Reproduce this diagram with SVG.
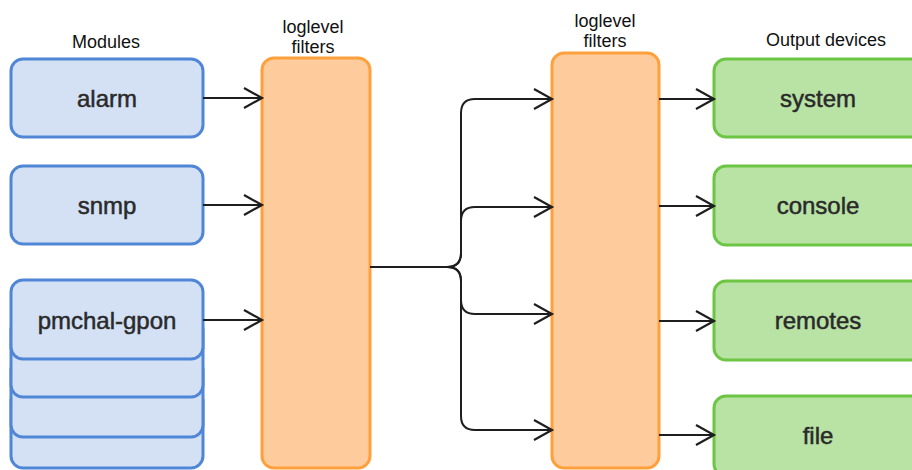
<svg xmlns="http://www.w3.org/2000/svg" width="912" height="470" viewBox="0 0 912 470">
  <defs>
    <style>
      .module rect { fill: #d4e1f5; stroke: #4f86d6; stroke-width: 3; }
      .filter rect { fill: #fecc9c; stroke: #ffa03c; stroke-width: 3; }
      .output rect { fill: #b9e2a5; stroke: #6cc644; stroke-width: 3; }
      .label { font-family: "Liberation Sans", Arial, sans-serif; font-size: 24px; fill: #2a2a2a; text-anchor: middle; stroke: #2a2a2a; stroke-width: 0.5; }
      .caption { font-family: "Liberation Sans", Arial, sans-serif; font-size: 18px; fill: #111111; text-anchor: middle; }
      .edge { fill: none; stroke: #1e1e1e; stroke-width: 2; marker-end: url(#open-arrow); }
    </style>
    <marker id="open-arrow" markerUnits="userSpaceOnUse" markerWidth="22" markerHeight="26" refX="19" refY="11" orient="auto">
      <path d="M1,1 L19,11 L1,21" fill="none" stroke="#1e1e1e" stroke-width="2.2"/>
    </marker>
  </defs>

  <!-- column captions -->
  <text class="caption" x="106" y="48">Modules</text>
  <text class="caption" x="313" y="33">loglevel</text>
  <text class="caption" x="313" y="53">filters</text>
  <text class="caption" x="605" y="27">loglevel</text>
  <text class="caption" x="605" y="47">filters</text>
  <text class="caption" x="826" y="46">Output devices</text>

  <!-- modules -->
  <g id="alarm" class="module">
    <rect x="11" y="59" width="192" height="78" rx="12"/>
    <text class="label" x="107" y="107">alarm</text>
  </g>
  <g id="snmp" class="module">
    <rect x="11" y="166" width="192" height="78" rx="12"/>
    <text class="label" x="107" y="214">snmp</text>
  </g>
  <g id="pmchal-gpon" class="module">
    <rect x="11" y="389" width="192" height="79" rx="12"/>
    <rect x="11" y="358" width="192" height="79" rx="12"/>
    <rect x="11" y="318" width="192" height="79" rx="12"/>
    <rect x="11" y="280" width="192" height="79" rx="12"/>
    <text class="label" x="107" y="329">pmchal-gpon</text>
  </g>

  <!-- filters -->
  <g id="filter-in" class="filter">
    <rect x="262" y="58" width="108" height="410" rx="12"/>
  </g>
  <g id="filter-out" class="filter">
    <rect x="552" y="53" width="107" height="415" rx="12"/>
  </g>

  <!-- output devices -->
  <g id="system" class="output">
    <rect x="714" y="59" width="220" height="78" rx="12"/>
    <text class="label" x="818" y="107">system</text>
  </g>
  <g id="console" class="output">
    <rect x="714" y="166" width="220" height="79" rx="12"/>
    <text class="label" x="818" y="214">console</text>
  </g>
  <g id="remotes" class="output">
    <rect x="714" y="281" width="220" height="79" rx="12"/>
    <text class="label" x="818" y="329">remotes</text>
  </g>
  <g id="file" class="output">
    <rect x="714" y="396" width="220" height="80" rx="12"/>
    <text class="label" x="818" y="444">file</text>
  </g>

  <!-- connectors -->
  <g id="connectors">
    <path class="edge" d="M203,98 H262"/>
    <path class="edge" d="M203,205 H262"/>
    <path class="edge" d="M203,320 H262"/>

    <path class="edge" d="M370,267 H447 Q461,267 461,253 V113 Q461,99 475,99 H552"/>
    <path class="edge" d="M370,267 H447 Q461,267 461,253 V221 Q461,207 475,207 H552"/>
    <path class="edge" d="M370,267 H447 Q461,267 461,281 V300 Q461,314 475,314 H552"/>
    <path class="edge" d="M370,267 H447 Q461,267 461,281 V416 Q461,430 475,430 H552"/>

    <path class="edge" d="M659,99 H714"/>
    <path class="edge" d="M659,206 H714"/>
    <path class="edge" d="M659,321 H714"/>
    <path class="edge" d="M659,435 H714"/>
  </g>
</svg>
